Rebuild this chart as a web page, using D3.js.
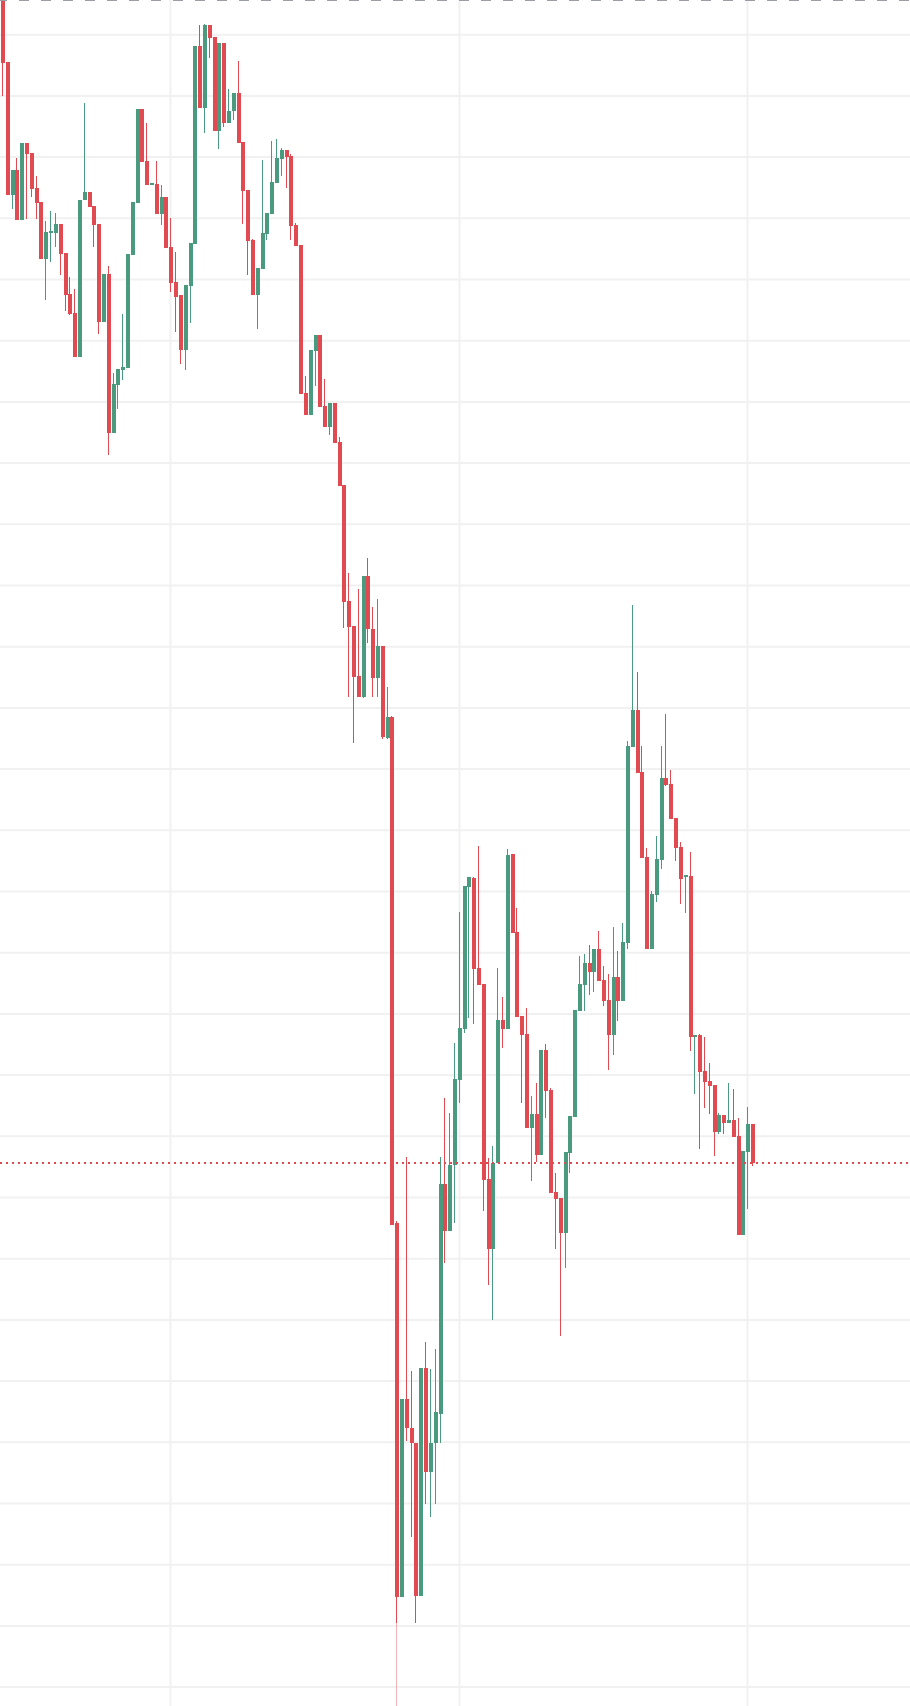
<!DOCTYPE html>
<html>
<head>
<meta charset="utf-8">
<script src="https://cdn.jsdelivr.net/npm/d3@7"></script>
<style>
  html, body { margin: 0; padding: 0; background: #ffffff; }
  svg { display: block; }
</style>
</head>
<body>
<script>
// ---- data (price units) ----
const opens = [180.2,173.77,160.53,163,158,165.7,164.7,161.2,159.8,154.13,
156.73,156.73,157.6,154.7,150.6,148.73,144.33,160,160.8,159.4,
157.6,147.8,152.6,136.73,141.53,143.03,143.23,154.53,159.73,169.1,
163.9,161.53,161.63,158.63,160.3,155.3,151.8,150.47,145,151.4,
155.6,175.4,169.2,177.5,176.3,166.93,175.7,167.7,168.9,170.7,
165.8,161,156,150.53,153.13,156.63,158.63,161.73,164.1,165,
164.4,157.5,155.5,140.7,138.53,144.93,146.5,139.43,137.33,139.7,
135.8,131.5,119.9,117.4,112.4,110.33,122.4,117.1,112.23,115.4,
106.23,108.3,57.7,20.3,40.07,37.2,35.7,20.43,43.2,32.82,
35.7,38.65,61.56,56.9,63.5,72.03,77.1,91.33,92.23,83.23,
81.6,62.1,55.13,63.7,78,77.13,94.6,86.83,78.4,76.6,
67.23,68.6,64.53,75,71.03,60.83,60.23,56.73,64.73,68.33,
78.9,81.5,83.7,82.8,85.1,82,80,76.5,82.3,79.9,
85.7,105.33,109,102.8,94.3,85.1,90.53,94.03,102.2,101.6,
98.2,95.33,92.33,92.43,76.33,76.5,72.9,71.9,71.5,66.83,
68.5,67.73,68,66.4,56.53,64.83,67.6];

const highs = [180.5,173.83,163,164.2,165.7,165.7,164.7,162.4,159.8,157.9,
158.9,158.7,157.6,154.7,152.33,151.13,160,169.7,160.8,159.4,
157.6,152.6,153.4,142.73,143.1,148.6,154.6,159.8,169.1,169.1,
167.7,161.7,163.9,161.5,160.3,158.2,154.8,150.47,151.5,155.7,
175.4,177.5,177.6,177.5,176.3,175.7,175.7,171.1,170.7,173.9,
165.8,161,156.1,153.2,164,158.7,165.9,166.1,165.2,165,
164.6,157.7,155.5,142.4,145,146.5,146.5,142.1,139.7,139.7,
136.3,131.5,122.7,117.4,121.1,122.4,124.2,119.3,120.1,115.4,
111.33,108.4,57.9,40.1,64.32,42.9,35.7,43.2,45.84,43.1,
45.1,64.32,70.22,68.7,75.7,88.8,91.4,92.3,92.3,95.4,
81.6,64.2,65.4,83.23,80.3,95.1,94.6,89.2,78.4,79.2,
70.43,71.7,75,75.6,71.23,62.73,60.23,64.8,68.4,79,
84.4,84.6,85.5,85.1,86.9,83.4,82.6,87.3,84.9,87.7,
105.9,119.5,112.8,105.4,95.2,90.9,96.4,105.4,108.6,103,
98.2,95.8,92.5,94.8,76.5,76.6,76.33,73.7,71.5,68.7,
68.5,71.73,71.1,68.2,64.9,69.3,67.6];

const lows = [170.43,160.53,159.13,158,158,158.1,160.33,158.1,154.13,150.03,
153.83,155.33,152.53,148.93,148.53,144.33,144.33,160,159.33,155.33,
146.63,147.8,134.53,136.73,139.13,142.03,143.23,154.53,159.73,163.83,
161.53,161.53,158.63,157.53,155.23,150.83,146.8,143.6,143,147.73,
155.6,169.2,166.73,174.23,166.93,165.13,167.33,167.7,168,165.73,
157.6,152.5,150.53,147.1,153.13,156,158.63,161.73,162.4,161.2,
156,155.4,140.6,138.53,138.53,141.4,139.33,137.33,136.53,135.73,
131.43,117.23,110.33,105.73,110.33,110.23,115.73,110.33,110.33,106.13,
106.13,57.52,4,20.3,35.9,26.3,17.7,20.43,29.6,28.33,
29.6,35.7,53.73,56.9,57.7,69.73,76.73,78.23,77.63,81.53,
58.93,51.53,48.03,63.7,75.23,77.13,86.73,78.33,69.73,67.23,
61.93,63.83,64.53,68.23,60.73,55.13,46.43,53.23,62.73,68.33,
78.9,78.9,80.5,80.8,81.9,79.4,73,74.5,77.9,79.9,
85.1,105.33,102.73,94.23,85.1,85.1,89.83,93.13,101.43,98.13,
93.93,89.63,88.73,74.93,70.63,65.13,69.23,68.63,64.43,66.63,
66.63,67.73,66.33,56.53,56.53,59.13,63.43];

const closes = [173.67,160.53,163,158,165.7,164.6,161.1,159.73,154.13,156.8,
156.9,157.6,154.63,150.53,148.63,144.33,160,160.8,159.33,157.53,
147.8,152.6,136.73,141.6,143.1,143.3,154.6,159.8,169.1,163.83,
161.53,161.7,158.63,160.3,155.23,151.73,150.33,145,151.5,155.7,
175.4,169.2,177.5,176.23,166.93,175.7,167.7,168.9,170.7,165.73,
160.9,155.93,150.53,153.2,156.7,158.7,161.8,164.2,165,164.3,
157.4,155.4,140.6,138.53,145,146.5,139.33,137.33,139.7,135.73,
131.43,119.83,117.33,112.33,110.33,122.4,117.07,112.23,115.4,106.33,
108.3,57.52,20.3,40.07,37.2,35.7,20.43,43.2,32.82,35.7,
38.8,61.56,56.9,63.5,72.1,77.2,91.4,92.3,83.13,81.53,
62.03,55.13,63.7,78,77.13,94.53,86.73,78.33,76.53,67.23,
68.6,64.53,75,70.93,60.73,60.13,56.73,64.8,68.4,79,
81.6,83.7,82.8,85.1,81.9,79.9,76.5,82.3,79.9,85.8,
105.4,109,102.73,94.23,85.1,90.6,94.1,102.2,101.53,98.13,
95.23,92.13,92.5,76.33,76.5,72.83,71.83,71.43,66.83,68.5,
67.73,68,66.33,56.53,64.9,67.6,63.67];

// time grid lines fall on these bar indices
const timeGridIdx = [35, 95, 155];
// price grid
const priceGridTop = 176.53, priceGridStep = 6.12, priceGridCount = 28;
// reference price lines
const topLinePrice = 179.95;
const lastPrice = closes[closes.length - 1];
// price below which the wick is drawn faded
const fadeBelow = 17.7;

// ---- layout ----
const W = 910, H = 1706;
const upColor = "#4a9a80", downColor = "#e14a50";
const n = opens.length;
const data = d3.range(n).map(i => ({i, o: opens[i], h: highs[i], l: lows[i], c: closes[i]}));

const x = d3.scaleLinear().domain([0, n - 1]).range([3, 753]);
const y = d3.scaleLinear().domain([180, 9.4]).range([0, H]);

const svg = d3.select("body").append("svg").attr("width", W).attr("height", H);
svg.append("rect").attr("width", W).attr("height", H).attr("fill", "#ffffff");

// grid
const gridPrices = d3.range(priceGridCount).map(k => priceGridTop - priceGridStep * k);
svg.append("g").selectAll("line").data(gridPrices).join("line")
  .attr("x1", 0).attr("x2", W)
  .attr("y1", d => y(d)).attr("y2", d => y(d))
  .attr("stroke", "#f1f1f2").attr("stroke-width", 2);
svg.append("g").selectAll("line").data(timeGridIdx).join("line")
  .attr("x1", d => Math.round(x(d)) - 0.5).attr("x2", d => Math.round(x(d)) - 0.5)
  .attr("y1", 0).attr("y2", H)
  .attr("stroke", "#f1f1f2").attr("stroke-width", 2);

// candles
const g = svg.append("g");
const col = d => d.c >= d.o ? upColor : downColor;
const cg = g.selectAll("g.c").data(data).join("g").attr("class", "c");
// wick (normal part)
cg.append("rect")
  .attr("x", d => Math.round(x(d.i)) - 1)
  .attr("width", 1)
  .attr("y", d => Math.round(y(d.h)))
  .attr("height", d => Math.max(1, Math.round(y(Math.max(d.l, fadeBelow))) - Math.round(y(d.h))))
  .attr("fill", col);
// wick (faded part below the fade level)
cg.filter(d => d.l < fadeBelow).append("rect")
  .attr("x", d => Math.round(x(d.i)) - 1)
  .attr("width", 1)
  .attr("y", Math.round(y(fadeBelow)))
  .attr("height", d => Math.round(y(d.l)) - Math.round(y(fadeBelow)))
  .attr("fill", col).attr("opacity", 0.42);
// body
cg.append("rect")
  .attr("x", d => Math.round(x(d.i)) - 2)
  .attr("width", 4)
  .attr("y", d => Math.round(y(Math.max(d.o, d.c))))
  .attr("height", d => Math.max(1, Math.round(y(Math.min(d.o, d.c))) - Math.round(y(Math.max(d.o, d.c)))))
  .attr("fill", col);

// top dashed price line
svg.append("line")
  .attr("x1", 0).attr("x2", W)
  .attr("y1", y(topLinePrice)).attr("y2", y(topLinePrice))
  .attr("stroke", "#9a9ca6").attr("stroke-width", 1)
  .attr("stroke-dasharray", "10,12").attr("stroke-dashoffset", 3);

// last price dotted line
svg.append("line")
  .attr("x1", 0).attr("x2", W)
  .attr("y1", Math.round(y(lastPrice))).attr("y2", Math.round(y(lastPrice)))
  .attr("stroke", downColor).attr("stroke-width", 2)
  .attr("stroke-dasharray", "2,4");
</script>
</body>
</html>
